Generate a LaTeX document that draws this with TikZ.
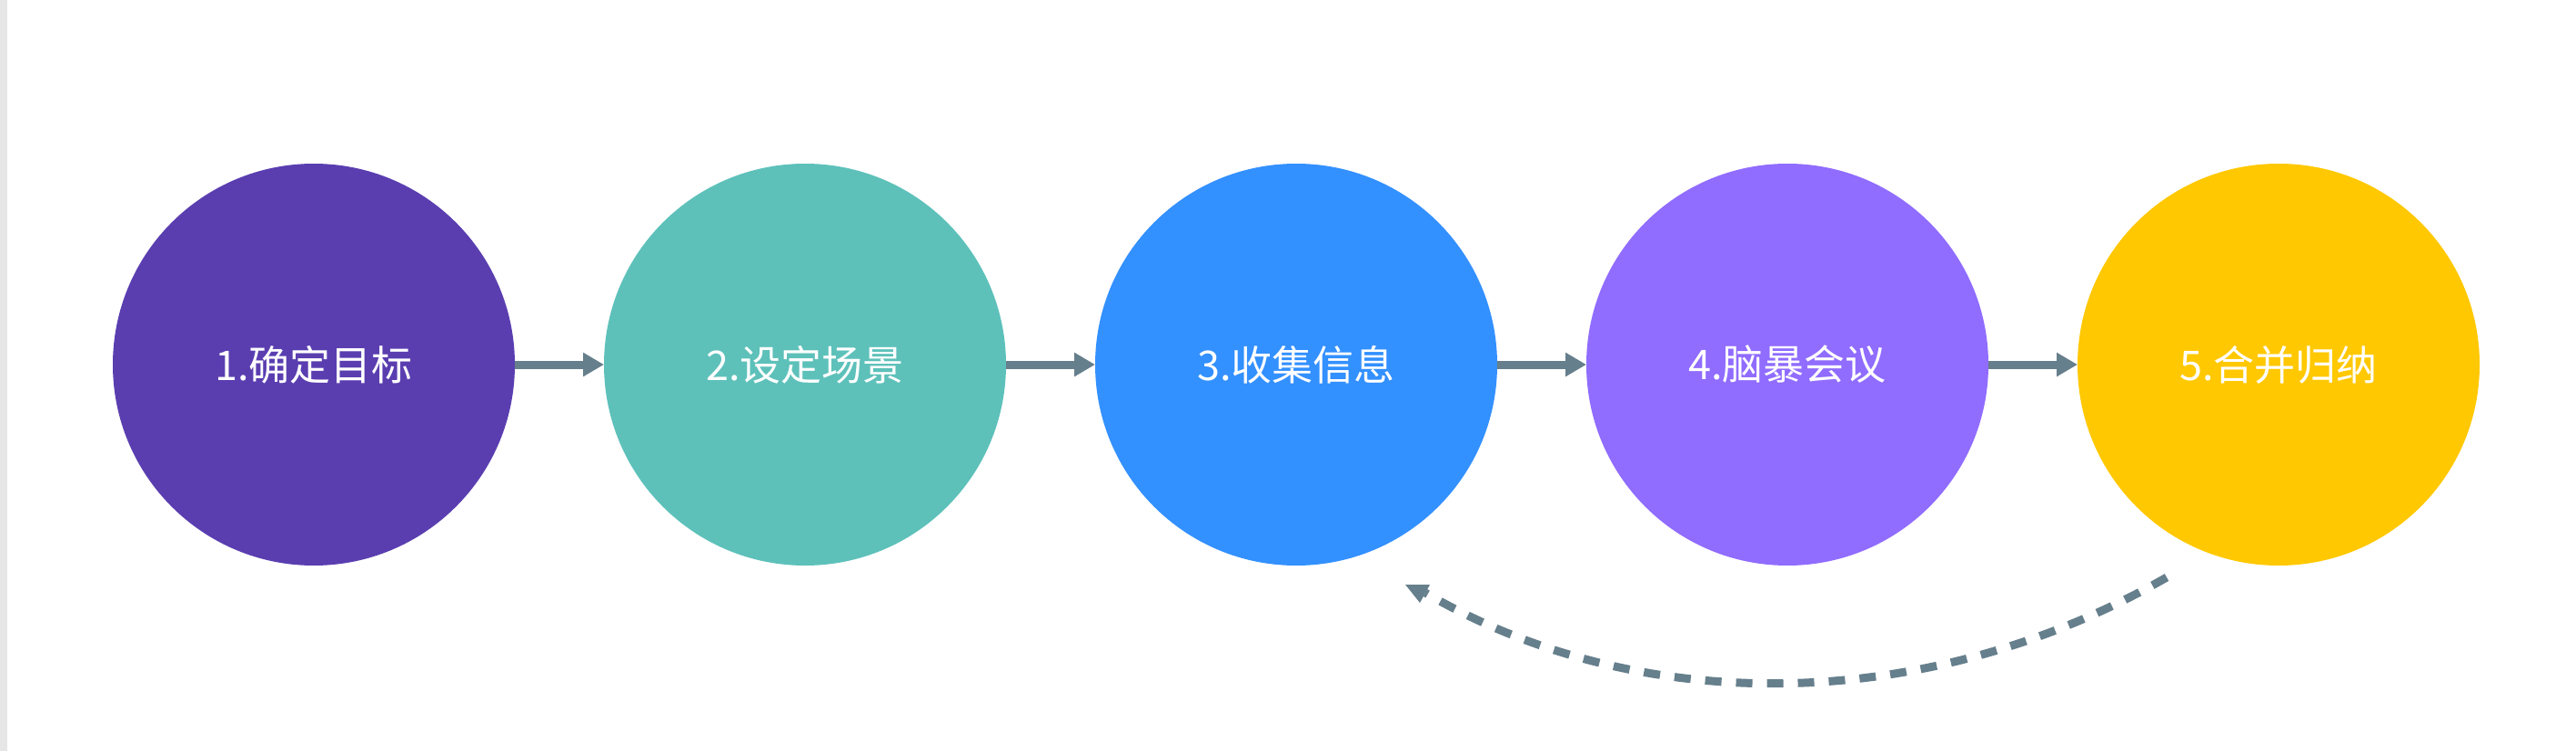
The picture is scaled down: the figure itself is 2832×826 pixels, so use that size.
\documentclass[tikz,border=0pt]{standalone}
\usepackage{fontspec}
\newfontfamily\cjk{Noto Sans CJK SC}
\usetikzlibrary{arrows.meta}
\definecolor{cA}{HTML}{5A3EB0}
\definecolor{cB}{HTML}{5DC1BA}
\definecolor{cC}{HTML}{3390FF}
\definecolor{cD}{HTML}{906CFF}
\definecolor{cE}{HTML}{FFC800}
\definecolor{lineC}{HTML}{667F8C}
\definecolor{edgeC}{HTML}{E6E6E6}
\begin{document}
\begin{tikzpicture}[x=1pt,y=1pt,
  stage/.style={circle,minimum size=442pt,inner sep=0pt,outer sep=0pt,text=white,
    font=\cjk\fontsize{45}{54}\selectfont},
  flow/.style={draw=lineC,line width=9pt,-{Triangle[length=23pt,width=25pt]}},
  back/.style={draw=lineC,line width=9pt,dash pattern=on 18pt off 16pt}]
\useasboundingbox (0,0) rectangle (2832,-826);
\fill[white] (0,0) rectangle (2832,-826);
\fill[edgeC] (0,0) rectangle (8,-826);
\node[stage,fill=cA] (s1) at (345,-401) {1.确定目标};
\node[stage,fill=cB] (s2) at (885,-401) {2.设定场景};
\node[stage,fill=cC] (s3) at (1425,-401) {3.收集信息};
\node[stage,fill=cD] (s4) at (1965,-401) {4.脑暴会议};
\node[stage,fill=cE] (s5) at (2505,-401) {5.合并归纳};
\draw[flow] (s1.east) -- (s2.west);
\draw[flow] (s2.east) -- (s3.west);
\draw[flow] (s3.east) -- (s4.west);
\draw[flow] (s4.east) -- (s5.west);
\coordinate (b5) at (2382,-635);
\coordinate (b3) at (1567,-652);
\draw[back] (b5) .. controls (2124,-783) and (1807,-792) .. (b3);
\fill[lineC] (1545,-643) -- (1572,-643) -- (1561,-663) -- cycle;
\end{tikzpicture}
\end{document}
